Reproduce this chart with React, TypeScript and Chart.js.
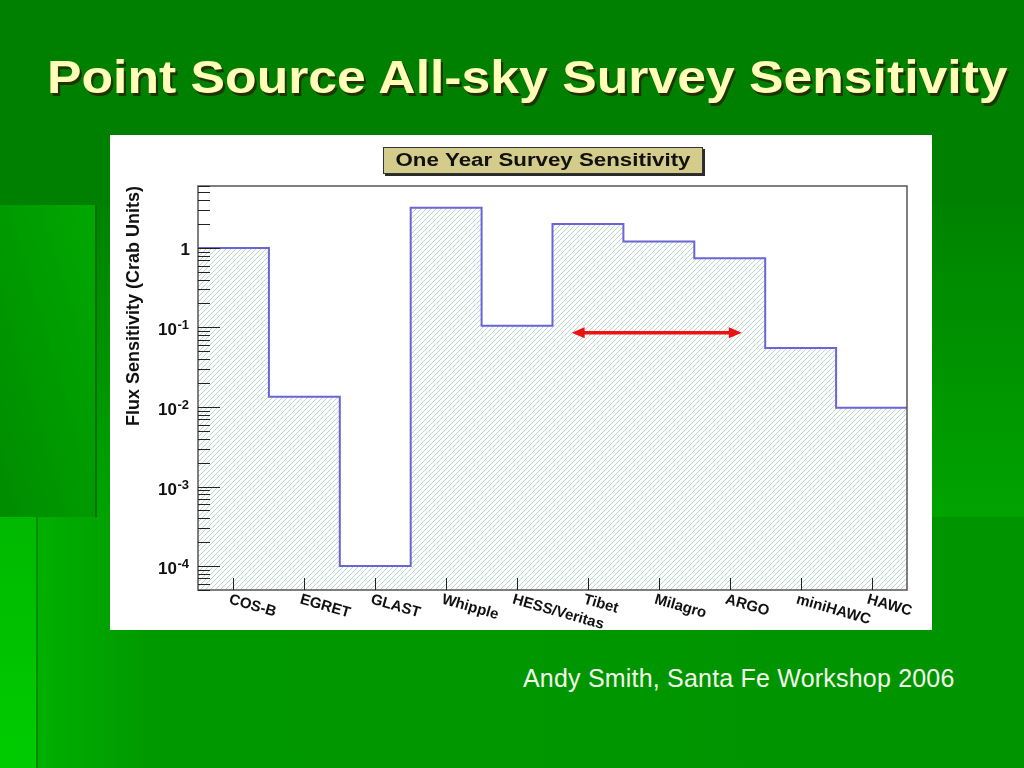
import React, { useEffect, useRef } from 'react';
import { Chart, registerables, ChartConfiguration, Plugin } from 'chart.js';

Chart.register(...registerables);

// instruments, one histogram bin each
const instruments = ['COS-B', 'EGRET', 'GLAST', 'Whipple', 'HESS/Veritas', 'Tibet', 'Milagro', 'ARGO', 'miniHAWC', 'HAWC'];
// one year survey sensitivity in Crab units
const sensitivity = [1.0, 0.0134, 0.0001, 3.2, 0.105, 2.0, 1.2, 0.74, 0.055, 0.0098];

// labelled y ticks: [mantissa, exponent]
const yTickValues = [1e-4, 1e-3, 1e-2, 1e-1, 1];
const yTickLabels = [['10', '-4'], ['10', '-3'], ['10', '-2'], ['10', '-1'], ['1', '']];

// red double arrow, in bin units and crab units
const arrowX = [5.27, 7.67];
const arrowY = [0.086];

const yMin = 5e-5;
const yMax = 6;

const FONT = '"Liberation Sans", Arial, Helvetica, sans-serif';

function makeHatch(): CanvasPattern | string {
  const s = 5;
  const c = document.createElement('canvas');
  c.width = s;
  c.height = s;
  const g = c.getContext('2d');
  if (!g) return '#e4ebe6';
  g.fillStyle = '#fbfefc';
  g.fillRect(0, 0, s, s);
  g.strokeStyle = '#b2c6bb';
  g.lineWidth = 0.8;
  g.beginPath();
  g.moveTo(-1, s + 1);
  g.lineTo(s + 1, -1);
  g.moveTo(-1, 1);
  g.lineTo(1, -1);
  g.moveTo(s - 1, s + 1);
  g.lineTo(s + 1, s - 1);
  g.stroke();
  return g.createPattern(c, 'repeat') || '#e4ebe6';
}

// frame, inside ticks, labels, arrow and title box
const decorations: Plugin<'line'> = {
  id: 'decorations',
  afterDatasetsDraw(chart) {
    const { ctx, chartArea: area } = chart;
    const xs = chart.scales.x;
    const ys = chart.scales.y;
    ctx.save();

    // red double arrow
    const ax0 = xs.getPixelForValue(arrowX[0]);
    const ax1 = xs.getPixelForValue(arrowX[1]);
    const ay = ys.getPixelForValue(arrowY[0]);
    const head = 13;
    ctx.strokeStyle = '#ee1111';
    ctx.fillStyle = '#ee1111';
    ctx.lineWidth = 3.5;
    ctx.beginPath();
    ctx.moveTo(ax0 + head - 2, ay);
    ctx.lineTo(ax1 - head + 2, ay);
    ctx.stroke();
    ctx.beginPath();
    ctx.moveTo(ax0, ay);
    ctx.lineTo(ax0 + head, ay - 5.5);
    ctx.lineTo(ax0 + head, ay + 5.5);
    ctx.closePath();
    ctx.fill();
    ctx.beginPath();
    ctx.moveTo(ax1, ay);
    ctx.lineTo(ax1 - head, ay - 5.5);
    ctx.lineTo(ax1 - head, ay + 5.5);
    ctx.closePath();
    ctx.fill();

    // frame
    ctx.strokeStyle = '#555555';
    ctx.lineWidth = 1.5;
    ctx.strokeRect(area.left, area.top, area.right - area.left, area.bottom - area.top);

    // y ticks (decades and minor), drawn inward
    ctx.lineWidth = 1;
    ctx.strokeStyle = '#222222';
    ctx.beginPath();
    for (let e = -5; e <= 1; e++) {
      for (let m = 1; m <= 9; m++) {
        const v = m * Math.pow(10, e);
        if (v < yMin || v > yMax) continue;
        const py = Math.round(ys.getPixelForValue(v)) + 0.5;
        const len = m === 1 ? 22 : 12;
        ctx.moveTo(area.left, py);
        ctx.lineTo(area.left + len, py);
      }
    }
    // x ticks at bin centres
    instruments.forEach((_, i) => {
      const px = Math.round(xs.getPixelForValue(i + 0.5)) + 0.5;
      ctx.moveTo(px, area.bottom);
      ctx.lineTo(px, area.bottom - 12);
    });
    ctx.stroke();

    // y labels with exponents
    ctx.fillStyle = '#111111';
    yTickValues.forEach((v, i) => {
      const py = ys.getPixelForValue(v);
      const [base, exp] = yTickLabels[i];
      const right = area.left - 9;
      ctx.textAlign = 'left';
      ctx.textBaseline = 'alphabetic';
      if (!exp) {
        ctx.font = `bold 17px ${FONT}`;
        const w = ctx.measureText(base).width;
        ctx.fillText(base, right + 1 - w, py + 7);
        return;
      }
      ctx.font = `bold 13px ${FONT}`;
      const we = ctx.measureText(exp).width;
      ctx.fillText(exp, right - we, py + 2);
      ctx.font = `bold 17px ${FONT}`;
      const wb = ctx.measureText(base).width;
      ctx.fillText(base, right - we - wb - 0.5, py + 8);
    });

    // slanted x labels
    ctx.font = `bold 15px ${FONT}`;
    ctx.textAlign = 'left';
    ctx.textBaseline = 'top';
    instruments.forEach((name, i) => {
      const px = xs.getPixelForValue(i + 0.5);
      ctx.save();
      ctx.translate(px - 2, area.bottom + 2);
      ctx.rotate((16 * Math.PI) / 180);
      ctx.fillText(name, 0, 0);
      ctx.restore();
    });

    // title box
    const bx = 273;
    const by = 12;
    const bw = 320;
    const bh = 27;
    ctx.fillStyle = '#2a2a2a';
    ctx.fillRect(bx + 2, by + 2, bw, bh);
    ctx.fillStyle = '#d4cc8a';
    ctx.fillRect(bx, by, bw, bh);
    ctx.strokeStyle = '#333333';
    ctx.lineWidth = 1;
    ctx.strokeRect(bx + 0.5, by + 0.5, bw - 1, bh - 1);
    ctx.font = `bold 18px ${FONT}`;
    ctx.textBaseline = 'middle';
    ctx.textAlign = 'left';
    const title = 'One Year Survey Sensitivity';
    const tw = ctx.measureText(title).width;
    const sx = 295 / tw;
    ctx.fillStyle = '#111111';
    ctx.save();
    ctx.translate(bx + bw / 2 - 147.5, by + bh / 2 + 1);
    ctx.scale(sx, 1);
    ctx.fillText(title, 0, 0);
    ctx.restore();

    ctx.restore();
  },
};

const SensitivityChart: React.FC = () => {
  const canvasRef = useRef<HTMLCanvasElement>(null);
  const chartRef = useRef<Chart<'line'> | null>(null);

  useEffect(() => {
    if (!canvasRef.current) return;
    const ctx = canvasRef.current.getContext('2d');
    if (!ctx) return;

    const stepPoints = sensitivity.map((v, i) => ({ x: i, y: v }));
    stepPoints.push({ x: sensitivity.length, y: sensitivity[sensitivity.length - 1] });

    const config: ChartConfiguration<'line'> = {
      type: 'line',
      data: {
        datasets: [
          {
            data: stepPoints,
            stepped: true,
            borderColor: '#6a64d4',
            borderWidth: 2,
            pointRadius: 0,
            fill: 'start',
            backgroundColor: makeHatch() as any,
          },
        ],
      },
      options: {
        animation: false,
        responsive: true,
        maintainAspectRatio: false,
        layout: { padding: { top: 51, right: 25, left: 0, bottom: 0 } },
        plugins: {
          legend: { display: false },
          tooltip: { enabled: false },
        },
        scales: {
          x: {
            type: 'linear',
            min: 0,
            max: instruments.length,
            grid: { display: false },
            border: { display: false },
            ticks: { display: false },
            afterFit: (s) => {
              s.height = 40;
            },
          },
          y: {
            type: 'logarithmic',
            min: yMin,
            max: yMax,
            grid: { display: false },
            border: { display: false },
            ticks: { display: false },
            title: {
              display: true,
              text: 'Flux Sensitivity (Crab Units)',
              align: 'end',
              color: '#111111',
              font: { family: FONT, size: 18, weight: 'bold' },
              padding: { top: 13, bottom: 0 },
            },
            afterFit: (s) => {
              s.width = 88;
            },
          },
        },
      },
      plugins: [decorations],
    };

    chartRef.current = new Chart(ctx, config);
    return () => {
      if (chartRef.current) {
        chartRef.current.destroy();
        chartRef.current = null;
      }
    };
  }, []);

  return (
    <div style={{ position: 'absolute', left: 110, top: 135, width: 822, height: 495, background: '#ffffff' }}>
      <canvas ref={canvasRef}></canvas>
    </div>
  );
};

const App: React.FC = () => {
  return (
    <div
      style={{
        position: 'fixed',
        left: 0,
        top: 0,
        width: 1024,
        height: 768,
        overflow: 'hidden',
        background: '#008000',
        fontFamily: FONT,
      }}
    >
      {/* slide background blocks */}
      <div style={{ position: 'absolute', left: 95, top: 205, width: 929, height: 563, background: 'linear-gradient(to bottom, #008300, #00a300 55%, #009a00)' }} />
      <div style={{ position: 'absolute', left: 36, top: 517, width: 988, height: 251, background: 'linear-gradient(to right, #00b000, #009800 12%, #009400)' }} />
      <div style={{ position: 'absolute', left: 0, top: 205, width: 95, height: 312, background: 'linear-gradient(to bottom left, #00a800, #008c00)', borderRight: '2px solid #006e00' }} />
      <div style={{ position: 'absolute', left: 0, top: 517, width: 36, height: 251, background: 'linear-gradient(to bottom, #00b800, #00cc00)', borderRight: '2px solid #008a00' }} />

      <div
        style={{
          position: 'absolute',
          left: 47,
          top: 50,
          fontSize: 47,
          fontWeight: 'bold',
          color: '#ffffb8',
          whiteSpace: 'nowrap',
          lineHeight: '54px',
          transform: 'scaleX(1.1)',
          transformOrigin: 'left top',
          textShadow: '2px 3px 0 #223300',
        }}
      >
        Point Source All-sky Survey Sensitivity
      </div>

      <SensitivityChart />

      <div
        style={{
          position: 'absolute',
          left: 523,
          top: 663,
          fontSize: 25,
          letterSpacing: '0.2px',
          color: '#f2fbea',
          whiteSpace: 'nowrap',
          lineHeight: '30px',
        }}
      >
        Andy Smith, Santa Fe Workshop 2006
      </div>
    </div>
  );
};

export default App;
